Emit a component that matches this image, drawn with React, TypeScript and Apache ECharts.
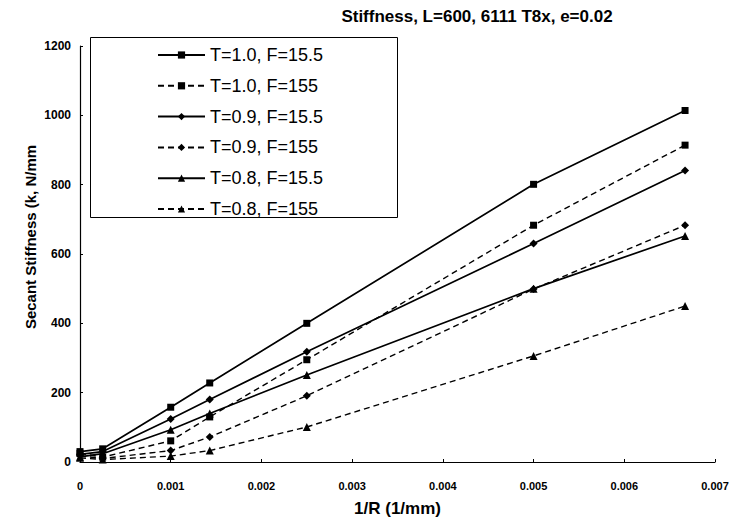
import React, { useEffect, useRef } from "react";
import * as echarts from "echarts";

const xValues = [0, 0.00025, 0.001, 0.00143, 0.0025, 0.005, 0.00667];
const seriesNames = [
  "T=1.0, F=15.5",
  "T=1.0, F=155",
  "T=0.9, F=15.5",
  "T=0.9, F=155",
  "T=0.8, F=15.5",
  "T=0.8, F=155",
];
const s10f155 = [30, 38, 158, 228, 400, 801, 1014];
const s10f1550 = [25, 14, 61, 130, 295, 683, 914];
const s09f155 = [22, 30, 124, 180, 318, 630, 841];
const s09f1550 = [18, 10, 33, 72, 191, 499, 683];
const s08f155 = [15, 24, 93, 140, 251, 500, 652];
const s08f1550 = [12, 7, 17, 33, 101, 306, 450];
const seriesValues = [s10f155, s10f1550, s09f155, s09f1550, s08f155, s08f1550];
const symbols = ["rect", "rect", "diamond", "diamond", "triangle", "triangle"];
const dashed = [false, true, false, true, false, true];
const yTicks = { min: 0, max: 1200, interval: 200 };
const xTicks = { min: 0, max: 0.007, interval: 0.001 };

const FONT = "'Liberation Sans', Arial, Helvetica, sans-serif";

export default function App() {
  const ref = useRef<HTMLDivElement>(null);
  useEffect(() => {
    if (!ref.current) return;
    const chart = echarts.init(ref.current, null, { renderer: "svg" });
    const series = seriesNames.map((name, i) => ({
      name,
      type: "line",
      data: xValues.map((x, j) => [x, seriesValues[i][j]]),
      symbol: symbols[i],
      symbolSize: symbols[i] === "rect" ? 7 : 8,
      showSymbol: true,
      itemStyle: { color: "#000" },
      lineStyle: {
        color: "#000",
        width: dashed[i] ? 1.4 : 1.7,
        type: dashed[i] ? [6, 4] : "solid",
      },
      z: 3,
    }));
    chart.setOption({
      animation: false,
      backgroundColor: "#fff",
      textStyle: { fontFamily: FONT, color: "#000" },
      title: {
        text: "Stiffness, L=600, 6111 T8x, e=0.02",
        left: 472,
        textAlign: "center",
        top: 3,
        textStyle: { fontFamily: FONT, fontWeight: "bold", fontSize: 17, color: "#000" },
      },
      grid: { left: 80, right: 17, top: 46, bottom: 59 },
      xAxis: {
        type: "value",
        min: xTicks.min,
        max: xTicks.max,
        interval: xTicks.interval,
        name: "1/R (1/mm)",
        nameLocation: "middle",
        nameGap: 38,
        nameTextStyle: { fontFamily: FONT, fontWeight: "bold", fontSize: 17, color: "#000" },
        axisLine: { lineStyle: { color: "#000", width: 1.2 } },
        axisTick: { inside: true, length: 3, lineStyle: { color: "#000" } },
        splitLine: { show: false },
        axisLabel: {
          margin: 18,
          showMaxLabel: true,
          fontFamily: FONT,
          fontWeight: "bold",
          fontSize: 11,
          color: "#000",
          formatter: (v: number) => (v === 0 ? "0" : v.toFixed(3)),
        },
      },
      yAxis: {
        type: "value",
        min: yTicks.min,
        max: yTicks.max,
        interval: yTicks.interval,
        axisLine: { show: true, lineStyle: { color: "#000", width: 1.2 } },
        axisTick: { show: true, inside: true, length: 3, lineStyle: { color: "#000" } },
        splitLine: { show: false },
        axisLabel: {
          margin: 9,
          fontFamily: FONT,
          fontWeight: "bold",
          fontSize: 12,
          color: "#000",
          formatter: (v: number) => String(v),
        },
      },
      legend: {
        orient: "vertical",
        left: 152,
        top: 41,
        itemWidth: 47,
        itemHeight: 9,
        itemGap: 12.8,
        data: seriesNames,
        textStyle: { fontFamily: FONT, fontSize: 18, color: "#000" },
      },
      graphic: [
        {
          type: "rect",
          shape: { x: 90.5, y: 37.5, width: 307, height: 180 },
          style: { fill: "#fff", stroke: "#000", lineWidth: 1 },
          z: 0,
        },
        {
          type: "text",
          x: 30,
          y: 237,
          rotation: Math.PI / 2,
          style: {
            text: "Secant Stiffness (k, N/mm",
            align: "center",
            verticalAlign: "middle",
            fontFamily: FONT,
            fontWeight: "bold",
            fontSize: 15,
            fill: "#000",
          },
        },
      ],
      series,
    });
    return () => chart.dispose();
  }, []);
  return (
    <div
      ref={ref}
      style={{ position: "fixed", left: 0, top: 0, width: 732, height: 522, background: "#fff" }}
    />
  );
}
